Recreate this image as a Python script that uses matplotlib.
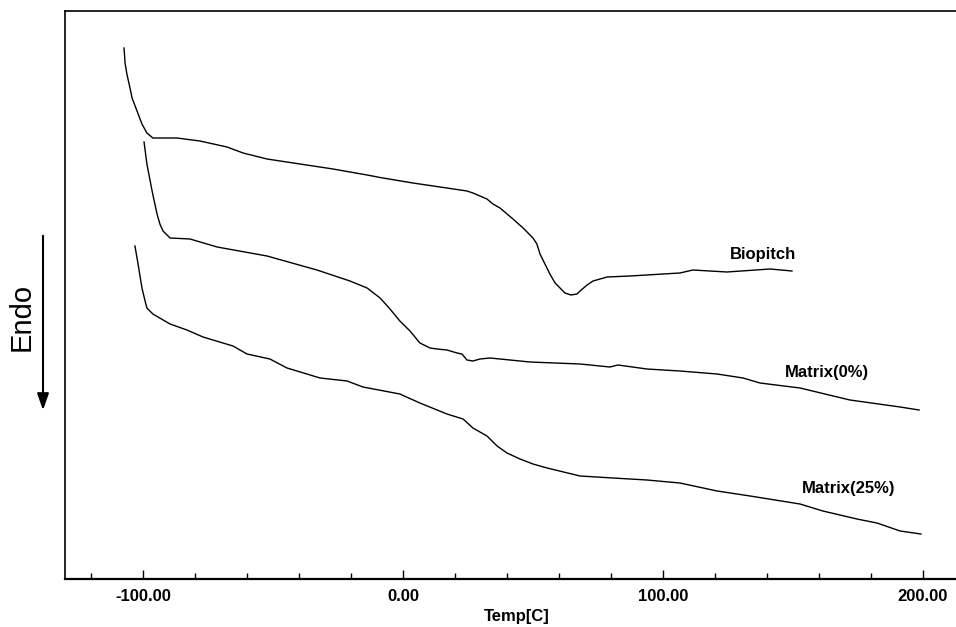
import matplotlib
matplotlib.use("Agg")
import matplotlib.pyplot as plt
from matplotlib.ticker import MultipleLocator, FormatStrFormatter

plt.rcParams['font.family'] = ['Liberation Sans', 'DejaVu Sans']

# DSC traces: temperature [C] and heat flow (arbitrary units)
bio_t = [-107.3, -106.9, -106.2, -105.0, -104.2, -102.3, -100.4, -98.5, -96.2, -86.9,
         -78.1, -67.7, -61.5, -52.3, -39.6, -26.9, -13.8, -8.8, 3.8, 16.9,
         24.6, 26.9, 29.6, 32.3, 34.6, 37.3, 42.3, 46.2, 50.0, 51.5,
         52.7, 54.6, 56.5, 58.5, 60.4, 62.3, 64.6, 66.9, 68.1, 70.8,
         73.1, 75.8, 78.5, 87.3, 106.5, 111.5, 124.6, 141.2, 149.6]
bio_q = [53.1, 51.6, 50.5, 49.1, 48.1, 46.8, 45.5, 44.6, 44.1, 44.1,
         43.8, 43.2, 42.6, 42.0, 41.5, 41.0, 40.4, 40.15, 39.6, 39.1,
         38.8, 38.6, 38.3, 38.0, 37.5, 37.1, 36.0, 35.1, 34.1, 33.5,
         32.5, 31.5, 30.5, 29.6, 29.1, 28.6, 28.4, 28.5, 28.8, 29.4,
         29.8, 30.0, 30.2, 30.3, 30.6, 30.9, 30.7, 31.0, 30.8]

m0_t = [-99.6, -98.5, -96.5, -94.6, -93.5, -92.3, -89.6, -81.9,
        -71.5, -52.3, -33.1, -20.4, -13.8, -8.8, -5.0, -1.2, 2.7, 6.5,
        10.4, 13.1, 16.9, 20.8, 22.7, 24.6, 26.9, 29.6, 33.5, 48.8,
        68.1, 79.6, 82.7, 93.8, 106.5, 120.8, 130.8, 137.3, 152.7, 171.9,
        191.2, 198.5]
m0_q = [43.7, 41.5, 38.8, 36.5, 35.5, 34.8, 34.1, 34.0,
        33.2, 32.3, 30.9, 29.8, 29.1, 28.1, 27.0, 25.8, 24.8, 23.6,
        23.1, 23.0, 22.9, 22.6, 22.5, 21.9, 21.8, 22.0, 22.1, 21.7,
        21.5, 21.2, 21.4, 21.0, 20.8, 20.5, 20.1, 19.6, 19.1, 17.9,
        17.2, 16.9]

m25_t = [-103.1, -101.9, -100.4, -99.2, -98.5, -96.2, -89.6, -83.1, -76.9,
         -65.4, -60.0, -51.2, -44.6, -31.9, -21.5, -15.4, -1.2, 6.5, 16.9,
         23.1, 26.9, 32.3, 36.2, 40.0, 45.0, 50.0, 55.4, 68.1, 80.8,
         93.8, 106.5, 120.8, 133.5, 152.7, 161.5, 174.6, 182.3, 191.2, 199.2]
m25_q = [33.3, 31.5, 29.1, 27.8, 27.1, 26.5, 25.5, 24.9, 24.2,
         23.3, 22.5, 22.0, 21.1, 20.1, 19.8, 19.2, 18.5, 17.6, 16.5,
         16.0, 15.1, 14.3, 13.3, 12.6, 12.0, 11.5, 11.1, 10.3, 10.1,
         9.9, 9.6, 8.8, 8.3, 7.5, 6.8, 6.0, 5.6, 4.8, 4.5]

fig = plt.figure(figsize=(9.56, 6.27), dpi=100)
ax = fig.add_axes([65 / 956, 1 - 579 / 627, 1 - 65 / 956, (579 - 11) / 627])

for t, q in [(bio_t, bio_q), (m0_t, m0_q), (m25_t, m25_q)]:
    ax.plot(t, q, color='black', lw=1.0)

ax.text(125.8, 32.4, 'Biopitch', fontsize=12, fontweight='bold', ha='left', va='center')
ax.text(146.9, 20.6, 'Matrix(0%)', fontsize=12, fontweight='bold', ha='left', va='center')
ax.text(153.5, 9.0, 'Matrix(25%)', fontsize=12, fontweight='bold', ha='left', va='center')

ax.set_xlim(-130, 212.7)
ax.set_ylim(0, 56.8)
ax.xaxis.set_major_locator(MultipleLocator(100))
ax.xaxis.set_minor_locator(MultipleLocator(20))
ax.xaxis.set_major_formatter(FormatStrFormatter('%.2f'))
ax.tick_params(axis='x', which='major', direction='in', length=6.5, width=1, pad=7,
               labelsize=12)
ax.tick_params(axis='x', which='minor', direction='in', length=4, width=1)
for lab in ax.get_xticklabels():
    lab.set_fontweight('bold')
ax.set_yticks([])
ax.spines['right'].set_visible(False)
for s in ['left', 'top']:
    ax.spines[s].set_linewidth(1.2)
ax.spines['bottom'].set_linewidth(1.6)

fig.text(517 / 956, 1 - 617 / 627, 'Temp[C]', fontsize=12, fontweight='bold',
         ha='center', va='center')

fig.text(21.5 / 956, 1 - 317 / 627, 'Endo', fontsize=21, rotation=90,
         ha='center', va='center')
fig.add_artist(matplotlib.patches.FancyArrowPatch(
    (43 / 956, 1 - 233 / 627), (43 / 956, 1 - 413 / 627),
    transform=fig.transFigure, arrowstyle='-|>,head_length=10,head_width=3.5',
    mutation_scale=1, lw=1.5, color='black'))

fig.savefig('out.png', dpi=100)
